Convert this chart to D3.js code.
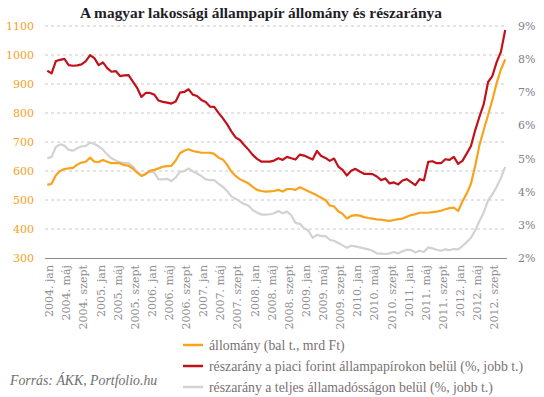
<!DOCTYPE html>
<html><head><meta charset="utf-8">
<script src="https://cdn.jsdelivr.net/npm/d3@7"></script>
<style>
html,body{margin:0;padding:0;background:#fff;}
svg{display:block;}
</style></head>
<body>
<svg id="c" width="544" height="397"></svg>
<script>
// Monthly data, 2004 jan .. 2012 dec
const startYear = 2004;
const allomany = [552,556,585,600,607,609,611,622,629,632,646,632,
631,638,632,627,627,627,620,618,608,594,583,589,
601,604,609,615,617,618,636,661,670,675,669,666,
663,663,663,659,646,640,622,598,583,572,565,557,
545,535,531,529,530,531,535,529,538,538,535,544,
537,530,523,516,508,500,481,478,461,452,436,445,
448,446,441,438,436,433,432,430,428,431,434,436,
442,448,451,456,456,456,458,460,463,468,472,474,
462,495,522,556,618,690,742,793,845,903,950,985];
const piaci = [7.65,7.57,7.94,7.98,8.01,7.82,7.80,7.81,7.84,7.94,8.12,8.03,
7.82,7.90,7.73,7.62,7.64,7.49,7.51,7.52,7.32,7.13,6.86,6.98,
6.98,6.93,6.75,6.71,6.69,6.66,6.72,6.99,7.01,7.09,6.93,6.89,
6.77,6.71,6.57,6.56,6.38,6.22,6.04,5.82,5.64,5.56,5.41,5.27,
5.11,4.99,4.91,4.91,4.91,4.94,5.01,4.96,5.05,5.01,4.97,5.12,
5.09,5.03,4.97,5.23,5.08,5.02,4.93,5.00,4.76,4.66,4.49,4.63,
4.69,4.61,4.54,4.54,4.53,4.46,4.35,4.40,4.25,4.28,4.22,4.34,
4.38,4.29,4.20,4.38,4.34,4.90,4.92,4.86,4.86,4.98,4.96,5.05,
4.84,4.93,5.15,5.38,5.86,6.27,6.65,7.31,7.49,7.91,8.22,8.88];
const teljes = [5.01,5.05,5.35,5.43,5.39,5.26,5.24,5.31,5.37,5.38,5.48,5.44,
5.37,5.27,5.12,5.01,4.94,4.89,4.86,4.86,4.76,4.60,4.48,4.56,
4.60,4.58,4.37,4.37,4.39,4.32,4.43,4.60,4.62,4.70,4.62,4.55,
4.47,4.37,4.35,4.35,4.24,4.15,4.02,3.86,3.79,3.71,3.63,3.58,
3.45,3.37,3.31,3.31,3.32,3.35,3.42,3.35,3.40,3.29,3.06,3.03,
2.90,2.83,2.61,2.70,2.66,2.66,2.55,2.52,2.45,2.38,2.31,2.37,
2.35,2.32,2.29,2.26,2.22,2.14,2.13,2.12,2.14,2.18,2.14,2.20,
2.25,2.24,2.17,2.22,2.18,2.32,2.29,2.25,2.22,2.26,2.24,2.27,
2.26,2.36,2.48,2.61,2.83,3.12,3.38,3.74,3.92,4.15,4.41,4.75];
const monthNames = ["jan","máj","szept"];
const tickMonths = [0,4,8];
const leftTicks = [300,400,500,600,700,800,900,1000,1100];
const rightTicks = [2,3,4,5,6,7,8,9];
const title = "A magyar lakossági állampapír állomány és részaránya";
const source = "Forrás: ÁKK, Portfolio.hu";
const seriesNames = ["állomány (bal t., mrd Ft)",
  "részarány a piaci forint állampapírokon belül (%, jobb t.)",
  "részarány a teljes államadósságon belül (%, jobb t.)"];
const colors = ["#F9A21B","#C1121C","#D2D2D2"];

const svg = d3.select("#c");
const x = d3.scaleLinear().domain([0, allomany.length-1]).range([47.3, 505.2]);
const yL = d3.scaleLinear().domain([300,1100]).range([258,26]);
const yR = d3.scaleLinear().domain([2,9]).range([258,26]);
const serif = "'DejaVu Serif', serif";

// title
svg.append("text").attr("x",261).attr("y",18).attr("text-anchor","middle")
  .attr("font-family","'Liberation Serif', serif").attr("font-weight","bold")
  .attr("font-size",15.4).attr("fill","#1e1e28").text(title);

// gridlines
svg.append("g").selectAll("line").data(leftTicks.filter(d=>d>300)).join("line")
  .attr("x1",45).attr("x2",507).attr("y1",d=>yL(d)).attr("y2",d=>yL(d))
  .attr("stroke","#c9c9c9").attr("stroke-dasharray","3,3").attr("stroke-width",1);

// left axis
const gL = svg.append("g").attr("transform","translate(34,0)")
  .call(d3.axisLeft(yL).tickValues(leftTicks).tickSize(0).tickPadding(0).tickFormat(d3.format("d")));
gL.select(".domain").remove();
gL.selectAll("text").attr("font-family",serif).attr("font-size",11).attr("fill","#F5A01E");

// right axis
const gR = svg.append("g").attr("transform","translate(518,0)")
  .call(d3.axisRight(yR).tickValues(rightTicks).tickSize(0).tickPadding(0).tickFormat(d=>d+"%"));
gR.select(".domain").remove();
gR.selectAll("text").attr("font-family",serif).attr("font-size",11).attr("fill","#7d8090");

// x axis
const ticks = [];
for (let yr = 0; yr < 9; yr++) tickMonths.forEach((m,k)=>ticks.push({i: yr*12+m, label: (startYear+yr)+". "+monthNames[k]}));
svg.append("line").attr("x1",45).attr("x2",507).attr("y1",258.5).attr("y2",258.5)
  .attr("stroke","#8c8c8c").attr("stroke-width",1.2);
svg.append("g").selectAll("text").data(ticks).join("text")
  .attr("transform",d=>`translate(${x(d.i)+2},265) rotate(-90)`)
  .attr("text-anchor","end").attr("dy","0.35em")
  .attr("font-family",serif).attr("font-size",11).attr("fill","#8f8f8f")
  .text(d=>d.label);

// lines
const lineL = d3.line().x((d,i)=>x(i)).y(d=>yL(d));
const lineR = d3.line().x((d,i)=>x(i)).y(d=>yR(d));
svg.append("path").datum(teljes).attr("d",lineR).attr("fill","none").attr("stroke",colors[2]).attr("stroke-width",2.2).attr("stroke-linejoin","round");
svg.append("path").datum(allomany).attr("d",lineL).attr("fill","none").attr("stroke",colors[0]).attr("stroke-width",2.2).attr("stroke-linejoin","round");
svg.append("path").datum(piaci).attr("d",lineR).attr("fill","none").attr("stroke",colors[1]).attr("stroke-width",2.2).attr("stroke-linejoin","round");

// legend
const lg = svg.append("g");
seriesNames.forEach((n,k)=>{
  const yy = 345 + k*21;
  lg.append("line").attr("x1",183).attr("x2",203).attr("y1",yy).attr("y2",yy)
    .attr("stroke",colors[k]).attr("stroke-width",2.5);
  lg.append("text").attr("x",209).attr("y",yy).attr("dy","0.35em")
    .attr("font-family","'Liberation Serif', serif").attr("font-size",13.8).attr("fill","#7a7272").text(n);
});

// source
svg.append("text").attr("x",10).attr("y",380).attr("dy","0.35em")
  .attr("font-family","'Liberation Serif', serif").attr("font-style","italic")
  .attr("font-size",13.8).attr("fill","#6f6f6f").text(source);
</script>
</body></html>
